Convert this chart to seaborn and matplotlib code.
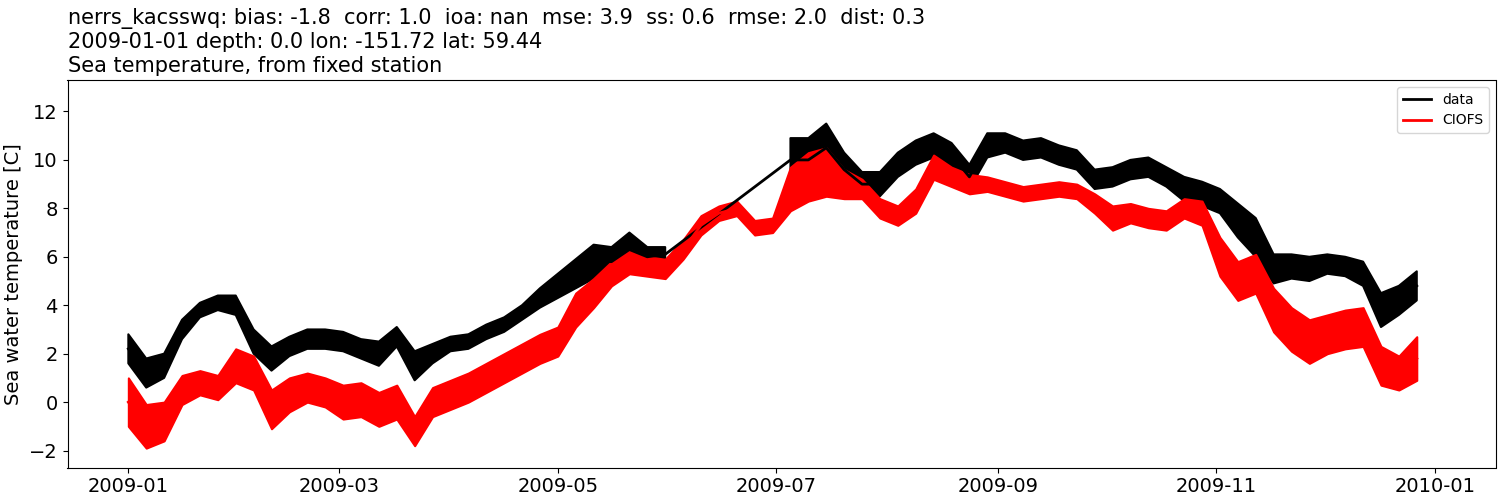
import pandas as pd
import matplotlib
matplotlib.use("Agg")
import matplotlib.pyplot as plt
import matplotlib.dates as mdates
import numpy as np
import seaborn as sns

# samples every 5 days from 2009-01-01
dates = pd.date_range("2009-01-01", periods=73, freq="5D")

data_mid = [2.2, 1.2, 1.5, 3.0, 3.8, 4.1, 4.0, 2.5, 1.8, 2.3, 2.6, 2.6,
            2.5, 2.2, 2.0, 2.7, 1.5, 2.0, 2.4, 2.5, 2.9, 3.2, 3.7, 4.3,
            4.8, 5.3, 5.8, 5.8, 6.3, 6.0, 6.1,
            np.nan, np.nan, np.nan, np.nan, np.nan, np.nan,
            10.0, 10.0, 10.5, 9.6, 9.0, 9.0, 9.8, 10.3, 10.6, 10.2, 9.3, 10.6,
            10.7, 10.4, 10.5, 10.2, 10.0, 9.2, 9.3, 9.6, 9.7, 9.3, 8.8, 8.6,
            8.3, 7.5, 6.8, 5.5, 5.6, 5.5, 5.7, 5.6, 5.3, 3.8, 4.2, 4.8]
data_spread = [0.6, 0.6, 0.5, 0.4, 0.3, 0.3, 0.4, 0.5, 0.5, 0.4, 0.4, 0.4,
               0.4, 0.4, 0.5, 0.4, 0.6, 0.4, 0.3, 0.3, 0.3, 0.3, 0.3, 0.4,
               0.5, 0.6, 0.7, 0.6, 0.7, 0.4, 0.3,
               0, 0, 0, 0, 0, 0,
               0.9, 0.9, 1.0, 0.7, 0.5, 0.5, 0.5, 0.5, 0.5, 0.5, 0.5, 0.5,
               0.4, 0.4, 0.4, 0.4, 0.4, 0.4, 0.4, 0.4, 0.4, 0.4, 0.5, 0.5,
               0.5, 0.7, 0.8, 0.6, 0.5, 0.5, 0.4, 0.4, 0.5, 0.7, 0.6, 0.6]

model_mid = [0.0, -1.0, -0.8, 0.5, 0.8, 0.6, 1.5, 1.2, -0.3, 0.3, 0.6, 0.4,
             0.0, 0.1, -0.3, 0.0, -1.2, 0.0, 0.3, 0.6, 1.0, 1.4, 1.8, 2.2,
             2.5, 3.8, 4.5, 5.3, 5.8, 5.6, 5.5, 6.3, 7.3, 7.8, 8.0, 7.2, 7.3,
             8.8, 9.3, 9.5, 9.0, 8.8, 8.0, 7.7, 8.3, 9.7, 9.3, 9.0, 9.0,
             8.8, 8.6, 8.7, 8.8, 8.7, 8.2, 7.6, 7.8, 7.6, 7.5, 8.0, 7.8,
             6.0, 5.0, 5.3, 3.8, 3.0, 2.5, 2.8, 3.0, 3.1, 1.5, 1.2, 1.8]
model_spread = [1.0, 0.9, 0.8, 0.6, 0.5, 0.5, 0.7, 0.7, 0.8, 0.7, 0.6, 0.6,
                0.7, 0.7, 0.7, 0.7, 0.6, 0.6, 0.6, 0.6, 0.6, 0.6, 0.6, 0.6,
                0.6, 0.7, 0.6, 0.5, 0.5, 0.4, 0.4, 0.4, 0.4, 0.3, 0.3, 0.3, 0.3,
                0.9, 1.0, 1.0, 0.6, 0.4, 0.4, 0.4, 0.5, 0.5, 0.4, 0.4, 0.3,
                0.3, 0.3, 0.3, 0.3, 0.3, 0.4, 0.5, 0.4, 0.4, 0.4, 0.4, 0.5,
                0.8, 0.8, 0.8, 0.9, 0.9, 0.9, 0.8, 0.8, 0.8, 0.8, 0.7, 0.9]

df = pd.DataFrame({"time": dates,
                   "data": data_mid, "data_s": data_spread,
                   "CIOFS": model_mid, "CIOFS_s": model_spread})

fig, ax = plt.subplots(figsize=(15, 5), dpi=100)
for name, color in [("data", "black"), ("CIOFS", "red")]:
    lo = df[name] - df[name + "_s"]
    hi = df[name] + df[name + "_s"]
    ax.fill_between(df.time, lo, hi, color=color, lw=1.5, edgecolor=color)
    sns.lineplot(x=df.time, y=df[name], color=color, lw=2, label=name, ax=ax)

ax.set_ylabel("Sea water temperature [C]", fontsize=14)
ax.set_xlabel("")
ax.tick_params(labelsize=14)
ax.xaxis.set_major_locator(mdates.MonthLocator(bymonth=[1, 3, 5, 7, 9, 11]))
ax.xaxis.set_major_formatter(mdates.DateFormatter("%Y-%m"))
ax.set_xlim(pd.Timestamp("2008-12-15"), pd.Timestamp("2010-01-18"))
ax.set_ylim(-2.7, 13.3)
ax.legend(loc="upper right", fontsize=10)
ax.set_title("nerrs_kacsswq: bias: -1.8  corr: 1.0  ioa: nan  mse: 3.9  ss: 0.6  rmse: 2.0  dist: 0.3\n"
             "2009-01-01 depth: 0.0 lon: -151.72 lat: 59.44\n"
             "Sea temperature, from fixed station", loc="left", fontsize=15)
fig.subplots_adjust(left=0.045, right=0.997, top=0.84, bottom=0.065)
fig.savefig("out.png")
